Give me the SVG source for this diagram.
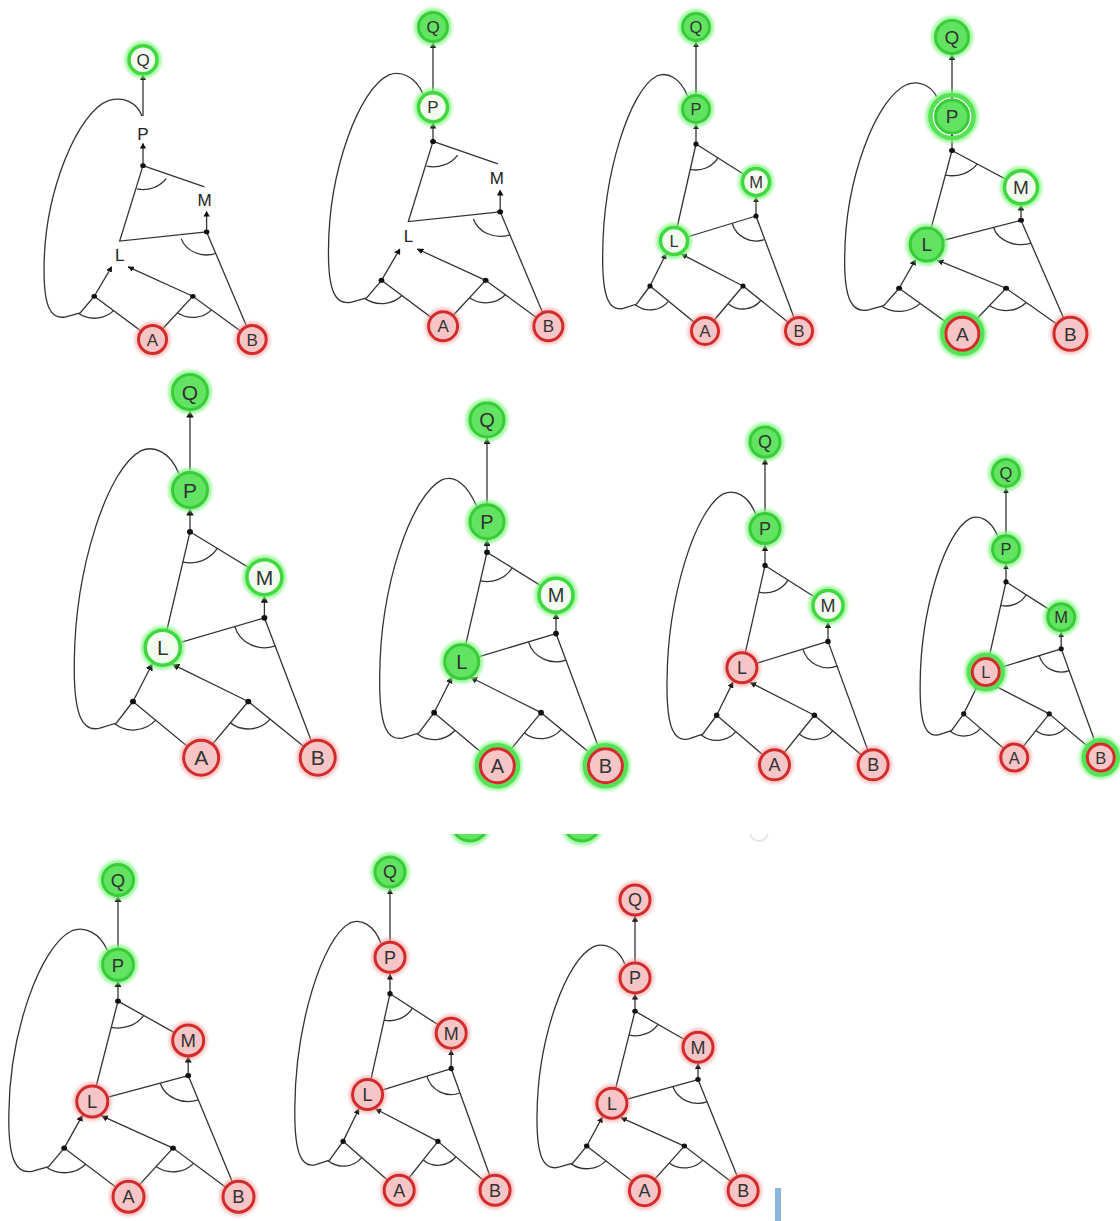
<svg xmlns="http://www.w3.org/2000/svg" width="1120" height="1221" viewBox="0 0 1120 1221">
<style>
.e{fill:none;stroke:#333;stroke-width:1.3;vector-effect:non-scaling-stroke}
.j{fill:#111}
.hg{fill:none;stroke:#86f586;stroke-width:5;opacity:.8;filter:url(#blur)}
.hr{fill:none;stroke:#f29a9a;stroke-width:4;opacity:.6;filter:url(#blur)}
.gs{fill:#62e362;stroke:#38cd38;stroke-width:3}
.gr{fill:#f2fdf0;stroke:#3fd83f;stroke-width:3.5}
.rd{fill:#f7c5c5;stroke:#d22b2b;stroke-width:3}
.og{fill:none;stroke:#55e255;stroke-width:4.5}
.t{font-family:"Liberation Sans",Arial,sans-serif;text-anchor:middle;fill:#333}
.tl{font-size:17px;fill:#222}
</style>
<defs>
<filter id="blur" x="-50%" y="-50%" width="200%" height="200%"><feGaussianBlur stdDeviation="1.5"/></filter>
<marker id="ah" viewBox="0 0 10 10" refX="9" refY="5" markerWidth="6" markerHeight="6" markerUnits="userSpaceOnUse" orient="auto"><path d="M0 0L10 5L0 10z" fill="#111"/></marker>
<clipPath id="cut"><rect x="0" y="834" width="1120" height="30"/></clipPath>
</defs>
<rect width="1120" height="1221" fill="#fff"/>

<!-- Panel 1 -->
<g id="panel1" transform="translate(143 58) scale(1.06 0.92)" style="font-size:17px">
<g id="p1-edges">
<path class="e" marker-end="url(#ah)" d="M0 63V18.8"/>
<path class="e" marker-end="url(#ah)" d="M0 117V93"/>
<path class="e" marker-end="url(#ah)" d="M60 189V167"/>
<path class="e" marker-end="url(#ah)" d="M-46 259L-29.6 227"/>
<path class="e" marker-end="url(#ah)" d="M47 259L-14 227"/>
<path class="e" d="M0 117L-22 199L60 189M0 117L58 140M60 189L103 306M-46 259L9 306L47 259L103 306"/>
<path class="e" d="M-1 63C-6 48 -18 42 -32 46C-62 58 -92.7 146.3 -93.3 226.3C-94 273 -86 284.7 -72.7 281.3L-59.3 277L-46 259"/>
<path class="e" d="M21.97 130.89A26 26 0 0 1 -5.76 142.35M68.6 212.5A25 25 0 0 1 36.09 196.31M-27.75 274.59A24 24 0 0 1 -61 277.5M64.62 273.78A23 23 0 0 1 32.54 276.89"/>
<circle class="j" cx="0" cy="117" r="2.6"/><circle class="j" cx="60" cy="189" r="2.6"/><circle class="j" cx="-46" cy="259" r="2.6"/><circle class="j" cx="47" cy="259" r="2.6"/>
</g>
<g id="p1-Q" transform="translate(0 2) scale(.9434 1.087)"><circle class="hg" r="16"/><circle class="gr" r="14"/><text class="t" dy=".36em">Q</text></g>
<g id="p1-P" transform="translate(0 82) scale(.9434 1.087)"><text class="t tl" dy=".36em">P</text></g>
<g id="p1-M" transform="translate(58 154) scale(.9434 1.087)"><text class="t tl" dy=".36em">M</text></g>
<g id="p1-L" transform="translate(-22 214) scale(.9434 1.087)"><text class="t tl" dy=".36em">L</text></g>
<g id="p1-A" transform="translate(9 306) scale(.9434 1.087)"><circle class="hr" r="16"/><circle class="rd" r="14"/><text class="t" dy=".36em">A</text></g>
<g id="p1-B" transform="translate(103 306) scale(.9434 1.087)"><circle class="hr" r="16"/><circle class="rd" r="14"/><text class="t" dy=".36em">B</text></g>
</g>

<!-- Panel 2 -->
<g id="panel2" transform="translate(433 27) scale(1.12 0.978)" style="font-size:17px">
<g id="p2-edges">
<path class="e" marker-end="url(#ah)" d="M0 82V16.4"/>
<path class="e" marker-end="url(#ah)" d="M0 117V98.4"/>
<path class="e" marker-end="url(#ah)" d="M60 189V167"/>
<path class="e" marker-end="url(#ah)" d="M-46 259L-29.6 227"/>
<path class="e" marker-end="url(#ah)" d="M47 259L-14 227"/>
<path class="e" d="M0 117L-22 199L60 189M0 117L58 140M60 189L103 306M-46 259L9 306L47 259L103 306"/>
<path class="e" d="M-8.8 68.7C-16 49.7 -29.3 44.7 -39.3 49C-66 63 -92.7 146.3 -93.3 226.3C-94 273 -86 284.7 -72.7 281.3L-59.3 277L-46 259"/>
<path class="e" d="M21.97 130.89A26 26 0 0 1 -5.76 142.35M68.6 212.5A25 25 0 0 1 36.09 196.31M-27.75 274.59A24 24 0 0 1 -61 277.5M64.62 273.78A23 23 0 0 1 32.54 276.89"/>
<circle class="j" cx="0" cy="117" r="2.6"/><circle class="j" cx="60" cy="189" r="2.6"/><circle class="j" cx="-46" cy="259" r="2.6"/><circle class="j" cx="47" cy="259" r="2.6"/>
</g>
<g id="p2-Q" transform="translate(0 0) scale(.8929 1.0225)"><circle class="hg" r="16.5"/><circle class="gs" r="14.5"/><text class="t" dy=".36em">Q</text></g>
<g id="p2-P" transform="translate(0 82) scale(.8929 1.0225)"><circle class="hg" r="16.5"/><circle class="gr" r="14.5"/><text class="t" dy=".36em">P</text></g>
<g id="p2-M" transform="translate(57 154) scale(.8929 1.0225)"><text class="t tl" dy=".36em">M</text></g>
<g id="p2-L" transform="translate(-22 214) scale(.8929 1.0225)"><text class="t tl" dy=".36em">L</text></g>
<g id="p2-A" transform="translate(9 306) scale(.8929 1.0225)"><circle class="hr" r="16.5"/><circle class="rd" r="14.5"/><text class="t" dy=".36em">A</text></g>
<g id="p2-B" transform="translate(103 306) scale(.8929 1.0225)"><circle class="hr" r="16.5"/><circle class="rd" r="14.5"/><text class="t" dy=".36em">B</text></g>
</g>

<!-- Panel 3 -->
<g id="panel3" transform="translate(696 27)" style="font-size:16.5px">
<g id="p3-edges">
<path class="e" marker-end="url(#ah)" d="M0 82V15"/>
<path class="e" marker-end="url(#ah)" d="M0 117V97"/>
<path class="e" marker-end="url(#ah)" d="M60 189V170"/>
<path class="e" marker-end="url(#ah)" d="M-46 259L-29.95 226.75"/>
<path class="e" marker-end="url(#ah)" d="M47 259L-14.5 227.05"/>
<path class="e" d="M0 117L-22 214M0 117L60 155M60 189L-22 214M60 189L103 304M-46 259L9 304L47 259L103 304"/>
<path class="e" d="M-8.25 69.55C-16 49.7 -29.3 44.7 -39.3 49C-66 63 -92.7 146.3 -93.3 226.3C-94 273 -86 284.7 -72.7 281.3L-59.3 277L-46 259"/>
<path class="e" d="M21.97 130.89A26 26 0 0 1 -5.76 142.35M68.6 212.5A25 25 0 0 1 36.09 196.31M-27.75 274.59A24 24 0 0 1 -61 277.5M64.62 273.78A23 23 0 0 1 32.54 276.89"/>
<circle class="j" cx="0" cy="117" r="2.6"/><circle class="j" cx="60" cy="189" r="2.6"/><circle class="j" cx="-46" cy="259" r="2.6"/><circle class="j" cx="47" cy="259" r="2.6"/>
</g>
<g id="p3-Q" transform="translate(0 0)"><circle class="hg" r="15.5"/><circle class="gs" r="13.5"/><text class="t" dy=".36em">Q</text></g>
<g id="p3-P" transform="translate(0 82)"><circle class="hg" r="15.5"/><circle class="gs" r="13.5"/><text class="t" dy=".36em">P</text></g>
<g id="p3-M" transform="translate(60 155)"><circle class="hg" r="15.5"/><circle class="gr" r="13.5"/><text class="t" dy=".36em">M</text></g>
<g id="p3-L" transform="translate(-22 214)"><circle class="hg" r="15.5"/><circle class="gr" r="13.5"/><text class="t" dy=".36em">L</text></g>
<g id="p3-A" transform="translate(9 304)"><circle class="hr" r="15.5"/><circle class="rd" r="13.5"/><text class="t" dy=".36em">A</text></g>
<g id="p3-B" transform="translate(103 304)"><circle class="hr" r="15.5"/><circle class="rd" r="13.5"/><text class="t" dy=".36em">B</text></g>
</g>

<!-- Panel 4 -->
<g id="panel4" transform="translate(952 37) scale(1.15 0.97)" style="font-size:19px">
<g id="p4-edges">
<path class="e" marker-end="url(#ah)" d="M0 82V18.5"/>
<path class="e" marker-end="url(#ah)" d="M0 117V100.5"/>
<path class="e" marker-end="url(#ah)" d="M60 189V173.5"/>
<path class="e" marker-end="url(#ah)" d="M-46 259L-31.8 229.7"/>
<path class="e" marker-end="url(#ah)" d="M47 259L-12.75 230.1"/>
<path class="e" d="M0 117L-22 214M0 117L60 155M60 189L-22 214M60 189L103 306M-46 259L9 306L47 259L103 306"/>
<path class="e" d="M-13.3 61.5C-19 49 -29.3 44.7 -39.3 49C-66 63 -92.7 146.3 -93.3 226.3C-94 273 -86 284.7 -72.7 281.3L-59.3 277L-46 259"/>
<path class="e" d="M21.97 130.89A26 26 0 0 1 -5.76 142.35M68.6 212.5A25 25 0 0 1 36.09 196.31M-27.75 274.59A24 24 0 0 1 -61 277.5M64.62 273.78A23 23 0 0 1 32.54 276.89"/>
<circle class="j" cx="0" cy="117" r="2.6"/><circle class="j" cx="60" cy="189" r="2.6"/><circle class="j" cx="-46" cy="259" r="2.6"/><circle class="j" cx="47" cy="259" r="2.6"/>
</g>
<g id="p4-Q" transform="translate(0 0) scale(.8696 1.0309)"><circle class="hg" r="18.5"/><circle class="gs" r="16.5"/><text class="t" dy=".36em">Q</text></g>
<g id="p4-P" transform="translate(0 82) scale(.8696 1.0309)"><circle class="hg" r="24"/><circle class="og" r="21.5"/><circle class="gs" r="16.5"/><text class="t" dy=".36em">P</text></g>
<g id="p4-M" transform="translate(60 155) scale(.8696 1.0309)"><circle class="hg" r="18.5"/><circle class="gr" r="16.5"/><text class="t" dy=".36em">M</text></g>
<g id="p4-L" transform="translate(-22 214) scale(.8696 1.0309)"><circle class="hg" r="18.5"/><circle class="gs" r="16.5"/><text class="t" dy=".36em">L</text></g>
<g id="p4-A" transform="translate(9 306) scale(.8696 1.0309)"><circle class="hg" r="22"/><circle class="og" r="20"/><circle class="rd" r="16.5"/><text class="t" dy=".36em">A</text></g>
<g id="p4-B" transform="translate(103 306) scale(.8696 1.0309)"><circle class="hr" r="18.5"/><circle class="rd" r="16.5"/><text class="t" dy=".36em">B</text></g>
</g>

<!-- Panel 5 -->
<g id="panel5" transform="translate(190 392) scale(1.24 1.195)" style="font-size:21px">
<g id="p5-edges">
<path class="e" marker-end="url(#ah)" d="M0 82V16"/>
<path class="e" marker-end="url(#ah)" d="M0 117V98"/>
<path class="e" marker-end="url(#ah)" d="M60 189V171"/>
<path class="e" marker-end="url(#ah)" d="M-46 259L-30.5 227.6"/>
<path class="e" marker-end="url(#ah)" d="M47 259L-14 227.9"/>
<path class="e" d="M0 117L-22 214M0 117L60 155M60 189L-22 214M60 189L103 306M-46 259L9 306L47 259L103 306"/>
<path class="e" d="M-8.8 68.7C-16 49.7 -29.3 44.7 -39.3 49C-66 63 -92.7 146.3 -93.3 226.3C-94 273 -86 284.7 -72.7 281.3L-59.3 277L-46 259"/>
<path class="e" d="M21.97 130.89A26 26 0 0 1 -5.76 142.35M68.6 212.5A25 25 0 0 1 36.09 196.31M-27.75 274.59A24 24 0 0 1 -61 277.5M64.62 273.78A23 23 0 0 1 32.54 276.89"/>
<circle class="j" cx="0" cy="117" r="2.4"/><circle class="j" cx="60" cy="189" r="2.4"/><circle class="j" cx="-46" cy="259" r="2.4"/><circle class="j" cx="47" cy="259" r="2.4"/>
</g>
<g id="p5-Q" transform="translate(0 0) scale(.8065 .8368)"><circle class="hg" r="19.5"/><circle class="gs" r="17.5"/><text class="t" dy=".36em">Q</text></g>
<g id="p5-P" transform="translate(0 82) scale(.8065 .8368)"><circle class="hg" r="19.5"/><circle class="gs" r="17.5"/><text class="t" dy=".36em">P</text></g>
<g id="p5-M" transform="translate(60 155) scale(.8065 .8368)"><circle class="hg" r="19.5"/><circle class="gr" r="17.5"/><text class="t" dy=".36em">M</text></g>
<g id="p5-L" transform="translate(-22 214) scale(.8065 .8368)"><circle class="hg" r="19.5"/><circle class="gr" r="17.5"/><text class="t" dy=".36em">L</text></g>
<g id="p5-A" transform="translate(9 306) scale(.8065 .8368)"><circle class="hr" r="19.5"/><circle class="rd" r="17.5"/><text class="t" dy=".36em">A</text></g>
<g id="p5-B" transform="translate(103 306) scale(.8065 .8368)"><circle class="hr" r="19.5"/><circle class="rd" r="17.5"/><text class="t" dy=".36em">B</text></g>
</g>

<!-- Panel 6 -->
<g id="panel6" transform="translate(487 420) scale(1.15 1.13)" style="font-size:20px">
<g id="p6-edges">
<path class="e" marker-end="url(#ah)" d="M0 90V16"/>
<path class="e" marker-end="url(#ah)" d="M0 117V106"/>
<path class="e" marker-end="url(#ah)" d="M60 189V171"/>
<path class="e" marker-end="url(#ah)" d="M-46 259L-30.5 227.6"/>
<path class="e" marker-end="url(#ah)" d="M47 259L-14 227.9"/>
<path class="e" d="M0 117L-22 214M0 117L60 155M60 189L-22 214M60 189L103 306M-46 259L9 306L47 259L103 306"/>
<path class="e" d="M-8.8 76.7C-18 55 -29.3 48.7 -39.3 53C-66 67 -92.7 146.3 -93.3 226.3C-94 273 -86 284.7 -72.7 281.3L-59.3 277L-46 259"/>
<path class="e" d="M21.97 130.89A26 26 0 0 1 -5.76 142.35M68.6 212.5A25 25 0 0 1 36.09 196.31M-27.75 274.59A24 24 0 0 1 -61 277.5M64.62 273.78A23 23 0 0 1 32.54 276.89"/>
<circle class="j" cx="0" cy="117" r="2.5"/><circle class="j" cx="60" cy="189" r="2.5"/><circle class="j" cx="-46" cy="259" r="2.5"/><circle class="j" cx="47" cy="259" r="2.5"/>
</g>
<g id="p6-Q" transform="translate(0 0) scale(.8696 .885)"><circle class="hg" r="19"/><circle class="gs" r="17"/><text class="t" dy=".36em">Q</text></g>
<g id="p6-P" transform="translate(0 90) scale(.8696 .885)"><circle class="hg" r="19"/><circle class="gs" r="17"/><text class="t" dy=".36em">P</text></g>
<g id="p6-M" transform="translate(60 155) scale(.8696 .885)"><circle class="hg" r="19"/><circle class="gr" r="17"/><text class="t" dy=".36em">M</text></g>
<g id="p6-L" transform="translate(-22 214) scale(.8696 .885)"><circle class="hg" r="19"/><circle class="gs" r="17"/><text class="t" dy=".36em">L</text></g>
<g id="p6-A" transform="translate(9 306) scale(.8696 .885)"><circle class="hg" r="22.5"/><circle class="og" r="20.5"/><circle class="rd" r="17"/><text class="t" dy=".36em">A</text></g>
<g id="p6-B" transform="translate(103 306) scale(.8696 .885)"><circle class="hg" r="22.5"/><circle class="og" r="20.5"/><circle class="rd" r="17"/><text class="t" dy=".36em">B</text></g>
</g>

<!-- Panel 7 -->
<g id="panel7" transform="translate(765 442) scale(1.05 1.055)" style="font-size:18px">
<g id="p7-edges">
<path class="e" marker-end="url(#ah)" d="M0 82V16"/>
<path class="e" marker-end="url(#ah)" d="M0 117V98"/>
<path class="e" marker-end="url(#ah)" d="M60 189V171"/>
<path class="e" marker-end="url(#ah)" d="M-46 259L-30.5 227.6"/>
<path class="e" marker-end="url(#ah)" d="M47 259L-14 227.9"/>
<path class="e" d="M0 117L-22 214M0 117L60 155M60 189L-22 214M60 189L103 306M-46 259L9 306L47 259L103 306"/>
<path class="e" d="M-8.8 68.7C-16 49.7 -29.3 44.7 -39.3 49C-66 63 -92.7 146.3 -93.3 226.3C-94 273 -86 284.7 -72.7 281.3L-59.3 277L-46 259"/>
<path class="e" d="M21.97 130.89A26 26 0 0 1 -5.76 142.35M68.6 212.5A25 25 0 0 1 36.09 196.31M-27.75 274.59A24 24 0 0 1 -61 277.5M64.62 273.78A23 23 0 0 1 32.54 276.89"/>
<circle class="j" cx="0" cy="117" r="2.6"/><circle class="j" cx="60" cy="189" r="2.6"/><circle class="j" cx="-46" cy="259" r="2.6"/><circle class="j" cx="47" cy="259" r="2.6"/>
</g>
<g id="p7-Q" transform="translate(0 0) scale(.9524 .9479)"><circle class="hg" r="17"/><circle class="gs" r="15"/><text class="t" dy=".36em">Q</text></g>
<g id="p7-P" transform="translate(0 82) scale(.9524 .9479)"><circle class="hg" r="17"/><circle class="gs" r="15"/><text class="t" dy=".36em">P</text></g>
<g id="p7-M" transform="translate(60 155) scale(.9524 .9479)"><circle class="hg" r="17"/><circle class="gr" r="15"/><text class="t" dy=".36em">M</text></g>
<g id="p7-L" transform="translate(-22 214) scale(.9524 .9479)"><circle class="hr" r="17"/><circle class="rd" r="15"/><text class="t" dy=".36em">L</text></g>
<g id="p7-A" transform="translate(9 306) scale(.9524 .9479)"><circle class="hr" r="17"/><circle class="rd" r="15"/><text class="t" dy=".36em">A</text></g>
<g id="p7-B" transform="translate(103 306) scale(.9524 .9479)"><circle class="hr" r="17"/><circle class="rd" r="15"/><text class="t" dy=".36em">B</text></g>
</g>

<!-- Panel 8 -->
<g id="panel8" transform="translate(1006 473) scale(0.92 0.93)" style="font-size:16.5px">
<g id="p8-edges">
<path class="e" marker-end="url(#ah)" d="M0 82V16"/>
<path class="e" marker-end="url(#ah)" d="M0 117V98"/>
<path class="e" marker-end="url(#ah)" d="M60 189V171"/>
<path class="e" marker-end="url(#ah)" d="M-46 259L-30.5 227.6"/>
<path class="e" marker-end="url(#ah)" d="M47 259L-14 227.9"/>
<path class="e" d="M0 117L-22 214M0 117L60 155M60 189L-22 214M60 189L103 306M-46 259L9 306L47 259L103 306"/>
<path class="e" d="M-8.8 68.7C-16 49.7 -29.3 44.7 -39.3 49C-66 63 -92.7 146.3 -93.3 226.3C-94 273 -86 284.7 -72.7 281.3L-59.3 277L-46 259"/>
<path class="e" d="M21.97 130.89A26 26 0 0 1 -5.76 142.35M68.6 212.5A25 25 0 0 1 36.09 196.31M-27.75 274.59A24 24 0 0 1 -61 277.5M64.62 273.78A23 23 0 0 1 32.54 276.89"/>
<circle class="j" cx="0" cy="117" r="2.8"/><circle class="j" cx="60" cy="189" r="2.8"/><circle class="j" cx="-46" cy="259" r="2.8"/><circle class="j" cx="47" cy="259" r="2.8"/>
</g>
<g id="p8-Q" transform="translate(0 0) scale(1.087 1.0753)"><circle class="hg" r="15.5"/><circle class="gs" r="13.5"/><text class="t" dy=".36em">Q</text></g>
<g id="p8-P" transform="translate(0 82) scale(1.087 1.0753)"><circle class="hg" r="15.5"/><circle class="gs" r="13.5"/><text class="t" dy=".36em">P</text></g>
<g id="p8-M" transform="translate(60 155) scale(1.087 1.0753)"><circle class="hg" r="15.5"/><circle class="gs" r="13.5"/><text class="t" dy=".36em">M</text></g>
<g id="p8-L" transform="translate(-22 214) scale(1.087 1.0753)"><circle class="hg" r="19"/><circle class="og" r="17"/><circle class="rd" r="13.5"/><text class="t" dy=".36em">L</text></g>
<g id="p8-A" transform="translate(9 306) scale(1.087 1.0753)"><circle class="hr" r="15.5"/><circle class="rd" r="13.5"/><text class="t" dy=".36em">A</text></g>
<g id="p8-B" transform="translate(103 306) scale(1.087 1.0753)"><circle class="hg" r="19"/><circle class="og" r="17"/><circle class="rd" r="13.5"/><text class="t" dy=".36em">B</text></g>
</g>

<!-- Panel 9 -->
<g id="panel9" transform="translate(118 880) scale(1.17 1.035)" style="font-size:18.5px">
<g id="p9-edges">
<path class="e" marker-end="url(#ah)" d="M0 82V16"/>
<path class="e" marker-end="url(#ah)" d="M0 117V98"/>
<path class="e" marker-end="url(#ah)" d="M60 189V171"/>
<path class="e" marker-end="url(#ah)" d="M-46 259L-30.5 227.6"/>
<path class="e" marker-end="url(#ah)" d="M47 259L-14 227.9"/>
<path class="e" d="M0 117L-22 214M0 117L60 155M60 189L-22 214M60 189L103 306M-46 259L9 306L47 259L103 306"/>
<path class="e" d="M-8.8 68.7C-16 49.7 -29.3 44.7 -39.3 49C-66 63 -92.7 146.3 -93.3 226.3C-94 273 -86 284.7 -72.7 281.3L-59.3 277L-46 259"/>
<path class="e" d="M21.97 130.89A26 26 0 0 1 -5.76 142.35M68.6 212.5A25 25 0 0 1 36.09 196.31M-27.75 274.59A24 24 0 0 1 -61 277.5M64.62 273.78A23 23 0 0 1 32.54 276.89"/>
<circle class="j" cx="0" cy="117" r="2.5"/><circle class="j" cx="60" cy="189" r="2.5"/><circle class="j" cx="-46" cy="259" r="2.5"/><circle class="j" cx="47" cy="259" r="2.5"/>
</g>
<g id="p9-Q" transform="translate(0 0) scale(.8547 .9662)"><circle class="hg" r="17.5"/><circle class="gs" r="15.5"/><text class="t" dy=".36em">Q</text></g>
<g id="p9-P" transform="translate(0 82) scale(.8547 .9662)"><circle class="hg" r="17.5"/><circle class="gs" r="15.5"/><text class="t" dy=".36em">P</text></g>
<g id="p9-M" transform="translate(60 155) scale(.8547 .9662)"><circle class="hr" r="17.5"/><circle class="rd" r="15.5"/><text class="t" dy=".36em">M</text></g>
<g id="p9-L" transform="translate(-22 214) scale(.8547 .9662)"><circle class="hr" r="17.5"/><circle class="rd" r="15.5"/><text class="t" dy=".36em">L</text></g>
<g id="p9-A" transform="translate(9 306) scale(.8547 .9662)"><circle class="hr" r="17.5"/><circle class="rd" r="15.5"/><text class="t" dy=".36em">A</text></g>
<g id="p9-B" transform="translate(103 306) scale(.8547 .9662)"><circle class="hr" r="17.5"/><circle class="rd" r="15.5"/><text class="t" dy=".36em">B</text></g>
</g>

<!-- Panel 10 -->
<g id="panel10" transform="translate(390 872) scale(1.02 1.04)" style="font-size:18px">
<g id="p10-edges">
<path class="e" marker-end="url(#ah)" d="M0 82V16"/>
<path class="e" marker-end="url(#ah)" d="M0 117V98"/>
<path class="e" marker-end="url(#ah)" d="M60 189V171"/>
<path class="e" marker-end="url(#ah)" d="M-46 259L-30.5 227.6"/>
<path class="e" marker-end="url(#ah)" d="M47 259L-14 227.9"/>
<path class="e" d="M0 117L-22 214M0 117L60 155M60 189L-22 214M60 189L103 306M-46 259L9 306L47 259L103 306"/>
<path class="e" d="M-8.8 68.7C-16 49.7 -29.3 44.7 -39.3 49C-66 63 -92.7 146.3 -93.3 226.3C-94 273 -86 284.7 -72.7 281.3L-59.3 277L-46 259"/>
<path class="e" d="M21.97 130.89A26 26 0 0 1 -5.76 142.35M68.6 212.5A25 25 0 0 1 36.09 196.31M-27.75 274.59A24 24 0 0 1 -61 277.5M64.62 273.78A23 23 0 0 1 32.54 276.89"/>
<circle class="j" cx="0" cy="117" r="2.6"/><circle class="j" cx="60" cy="189" r="2.6"/><circle class="j" cx="-46" cy="259" r="2.6"/><circle class="j" cx="47" cy="259" r="2.6"/>
</g>
<g id="p10-Q" transform="translate(0 0) scale(.9804 .9615)"><circle class="hg" r="17"/><circle class="gs" r="15"/><text class="t" dy=".36em">Q</text></g>
<g id="p10-P" transform="translate(0 82) scale(.9804 .9615)"><circle class="hr" r="17"/><circle class="rd" r="15"/><text class="t" dy=".36em">P</text></g>
<g id="p10-M" transform="translate(60 155) scale(.9804 .9615)"><circle class="hr" r="17"/><circle class="rd" r="15"/><text class="t" dy=".36em">M</text></g>
<g id="p10-L" transform="translate(-22 214) scale(.9804 .9615)"><circle class="hr" r="17"/><circle class="rd" r="15"/><text class="t" dy=".36em">L</text></g>
<g id="p10-A" transform="translate(9 306) scale(.9804 .9615)"><circle class="hr" r="17"/><circle class="rd" r="15"/><text class="t" dy=".36em">A</text></g>
<g id="p10-B" transform="translate(103 306) scale(.9804 .9615)"><circle class="hr" r="17"/><circle class="rd" r="15"/><text class="t" dy=".36em">B</text></g>
</g>

<!-- Panel 11 -->
<g id="panel11" transform="translate(635 900) scale(1.05 0.95)" style="font-size:18px">
<g id="p11-edges">
<path class="e" marker-end="url(#ah)" d="M0 82V17.4"/>
<path class="e" marker-end="url(#ah)" d="M0 117V99.4"/>
<path class="e" marker-end="url(#ah)" d="M60 189V172.4"/>
<path class="e" marker-end="url(#ah)" d="M-46 259L-31.2 228.8"/>
<path class="e" marker-end="url(#ah)" d="M47 259L-13.3 229.1"/>
<path class="e" d="M0 117L-22 214M0 117L60 155M60 189L-22 214M60 189L103 306M-46 259L9 306L47 259L103 306"/>
<path class="e" d="M-9.6 67.6C-16 49.7 -29.3 44.7 -39.3 49C-66 63 -92.7 146.3 -93.3 226.3C-94 273 -86 284.7 -72.7 281.3L-59.3 277L-46 259"/>
<path class="e" d="M21.97 130.89A26 26 0 0 1 -5.76 142.35M68.6 212.5A25 25 0 0 1 36.09 196.31M-27.75 274.59A24 24 0 0 1 -61 277.5M64.62 273.78A23 23 0 0 1 32.54 276.89"/>
<circle class="j" cx="0" cy="117" r="2.6"/><circle class="j" cx="60" cy="189" r="2.6"/><circle class="j" cx="-46" cy="259" r="2.6"/><circle class="j" cx="47" cy="259" r="2.6"/>
</g>
<g id="p11-Q" transform="translate(0 0) scale(.9524 1.0526)"><circle class="hr" r="17"/><circle class="rd" r="15"/><text class="t" dy=".36em">Q</text></g>
<g id="p11-P" transform="translate(0 82) scale(.9524 1.0526)"><circle class="hr" r="17"/><circle class="rd" r="15"/><text class="t" dy=".36em">P</text></g>
<g id="p11-M" transform="translate(60 155) scale(.9524 1.0526)"><circle class="hr" r="17"/><circle class="rd" r="15"/><text class="t" dy=".36em">M</text></g>
<g id="p11-L" transform="translate(-22 214) scale(.9524 1.0526)"><circle class="hr" r="17"/><circle class="rd" r="15"/><text class="t" dy=".36em">L</text></g>
<g id="p11-A" transform="translate(9 306) scale(.9524 1.0526)"><circle class="hr" r="17"/><circle class="rd" r="15"/><text class="t" dy=".36em">A</text></g>
<g id="p11-B" transform="translate(103 306) scale(.9524 1.0526)"><circle class="hr" r="17"/><circle class="rd" r="15"/><text class="t" dy=".36em">B</text></g>
</g>

<!-- cropped fragments -->
<g id="fragments" clip-path="url(#cut)">
<circle class="hg" cx="470" cy="823" r="20"/><circle class="gs" cx="470" cy="823" r="18"/>
<circle class="hg" cx="582" cy="823" r="20"/><circle class="gs" cx="582" cy="823" r="18"/>
<circle cx="759" cy="832" r="9" fill="none" stroke="#e4e4e4" stroke-width="2"/>
</g>
<rect id="bar" x="775" y="1188" width="6" height="33" fill="#8bb5dd"/>
</svg>
